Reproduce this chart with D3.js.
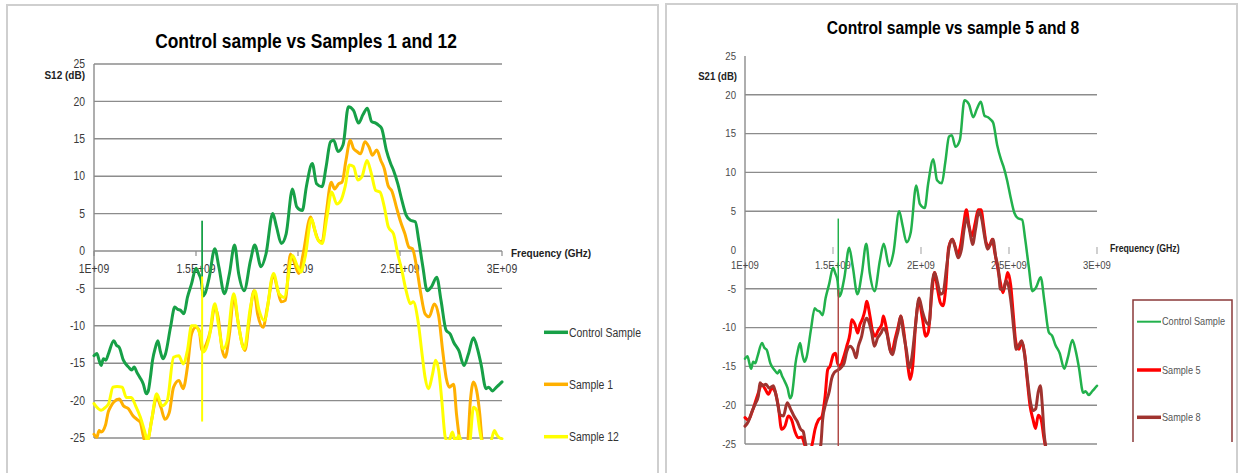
<!DOCTYPE html>
<html><head><meta charset="utf-8">
<script src="https://cdn.jsdelivr.net/npm/d3@7"></script>
<style>
body{margin:0;background:#fff;}
svg{display:block;}
text{font-family:"Liberation Sans",Arial,sans-serif;}
</style>
</head><body>
<svg id="c" width="1240" height="473"></svg>
<script>
// ---------- data (frequency in GHz, value in dB) ----------
const xTicks = [1, 1.5, 2, 2.5, 3];
const xTickLabels = ["1E+09","1.5E+09","2E+09","2.5E+09","3E+09"];
const yTicks = [-25,-20,-15,-10,-5,0,5,10,15,20,25];

const controlSample = [[1.000,-14.0],[1.014,-13.7],[1.025,-14.6],[1.035,-15.3],[1.046,-14.4],[1.058,-14.6],[1.070,-13.8],[1.097,-12.0],[1.110,-12.6],[1.124,-12.9],[1.144,-14.6],[1.169,-15.5],[1.185,-15.9],[1.197,-15.5],[1.210,-16.2],[1.225,-16.9],[1.242,-17.8],[1.256,-19.1],[1.265,-18.8],[1.276,-17.0],[1.287,-14.6],[1.300,-13.0],[1.313,-12.0],[1.325,-13.4],[1.338,-14.4],[1.350,-13.8],[1.375,-10.2],[1.396,-7.5],[1.410,-7.8],[1.423,-7.9],[1.441,-8.4],[1.458,-6.2],[1.478,-4.4],[1.500,-2.3],[1.513,-3.0],[1.526,-4.0],[1.535,-6.0],[1.544,-5.7],[1.565,-3.5],[1.592,0.3],[1.612,-2.1],[1.639,-5.7],[1.664,-3.0],[1.689,0.8],[1.709,-3.0],[1.736,-5.3],[1.767,-1.3],[1.788,0.8],[1.819,-2.1],[1.843,-0.4],[1.876,5.0],[1.895,3.2],[1.918,1.0],[1.942,2.3],[1.973,8.3],[1.994,5.9],[2.021,5.4],[2.041,8.6],[2.070,11.7],[2.091,9.0],[2.118,8.6],[2.138,11.3],[2.159,14.6],[2.175,14.8],[2.196,13.3],[2.221,14.2],[2.247,19.3],[2.272,18.8],[2.297,17.1],[2.318,18.2],[2.340,19.1],[2.361,17.3],[2.381,17.1],[2.396,16.8],[2.410,16.4],[2.433,13.5],[2.454,11.7],[2.468,10.8],[2.489,9.0],[2.509,6.8],[2.530,4.8],[2.551,4.1],[2.575,3.9],[2.592,1.4],[2.612,-2.1],[2.633,-5.3],[2.654,-4.8],[2.680,-3.5],[2.701,-6.6],[2.726,-10.6],[2.746,-11.1],[2.763,-12.2],[2.788,-13.3],[2.814,-15.3],[2.835,-13.8],[2.860,-11.6],[2.880,-13.1],[2.897,-15.1],[2.922,-18.4],[2.935,-18.2],[2.953,-18.7],[2.973,-18.2],[2.985,-17.9],[3.000,-17.5]];
const controlSpike = [[1.530,4.05],[1.530,-6.0]];

const sample1 = [[1.000,-24.5],[1.014,-24.9],[1.025,-24.0],[1.035,-24.2],[1.056,-23.3],[1.070,-21.5],[1.080,-20.9],[1.097,-20.2],[1.124,-19.8],[1.144,-20.7],[1.169,-21.1],[1.190,-22.0],[1.210,-22.5],[1.227,-22.9],[1.240,-24.5],[1.252,-25.6],[1.265,-25.2],[1.282,-22.7],[1.307,-19.6],[1.328,-20.9],[1.348,-22.5],[1.369,-21.6],[1.390,-18.2],[1.416,-17.3],[1.437,-18.4],[1.458,-15.5],[1.478,-11.1],[1.499,-10.2],[1.515,-10.6],[1.530,-13.3],[1.551,-12.4],[1.571,-10.6],[1.592,-7.5],[1.608,-8.8],[1.629,-13.3],[1.643,-14.2],[1.664,-11.1],[1.685,-6.2],[1.705,-9.3],[1.726,-12.4],[1.740,-13.3],[1.761,-9.3],[1.784,-5.3],[1.802,-8.4],[1.829,-10.2],[1.850,-7.5],[1.880,-3.3],[1.901,-5.3],[1.918,-6.8],[1.938,-6.6],[1.963,-0.4],[1.984,-1.7],[2.004,-3.0],[2.025,-0.4],[2.062,4.55],[2.082,2.8],[2.101,1.4],[2.118,1.2],[2.138,5.0],[2.163,9.2],[2.179,8.3],[2.200,9.0],[2.216,9.2],[2.235,12.1],[2.256,14.8],[2.272,13.7],[2.289,13.3],[2.307,13.0],[2.328,14.6],[2.348,13.9],[2.365,12.8],[2.386,13.5],[2.406,12.1],[2.423,11.0],[2.441,8.8],[2.462,7.9],[2.482,5.9],[2.503,3.9],[2.524,2.3],[2.544,0.5],[2.561,0.3],[2.581,-2.1],[2.602,-5.7],[2.623,-8.4],[2.643,-8.8],[2.668,-7.1],[2.689,-8.6],[2.709,-13.3],[2.726,-16.9],[2.742,-18.2],[2.763,-17.8],[2.777,-21.8],[2.794,-25.4],[2.810,-26.5],[2.830,-26.0],[2.845,-20.0],[2.860,-17.5],[2.876,-18.7],[2.891,-21.8],[2.903,-25.5],[2.920,-27.0],[3.000,-27.0]];

const sample12 = [[1.000,-20.4],[1.014,-20.9],[1.035,-21.3],[1.056,-20.9],[1.072,-20.4],[1.093,-18.2],[1.113,-18.1],[1.138,-18.2],[1.159,-19.6],[1.183,-19.6],[1.204,-20.7],[1.227,-22.2],[1.247,-24.0],[1.262,-25.3],[1.282,-22.7],[1.307,-19.1],[1.334,-20.7],[1.359,-20.0],[1.390,-14.2],[1.416,-14.0],[1.437,-15.1],[1.458,-13.3],[1.478,-10.0],[1.499,-10.0],[1.515,-10.8],[1.526,-11.8],[1.535,-13.5],[1.544,-13.3],[1.565,-11.5],[1.592,-7.05],[1.612,-10.2],[1.633,-13.1],[1.653,-12.0],[1.685,-5.7],[1.709,-10.0],[1.736,-13.1],[1.767,-7.5],[1.788,-5.3],[1.809,-7.9],[1.835,-9.3],[1.880,-3.0],[1.907,-5.7],[1.932,-6.2],[1.973,-0.6],[1.998,-2.1],[2.014,-2.8],[2.035,-0.8],[2.066,4.3],[2.091,1.9],[2.118,1.0],[2.142,4.55],[2.165,7.9],[2.190,6.3],[2.211,6.8],[2.231,8.6],[2.252,11.5],[2.272,11.3],[2.293,9.5],[2.313,9.9],[2.338,12.1],[2.359,10.4],[2.381,8.1],[2.402,7.9],[2.423,5.9],[2.443,3.2],[2.468,2.3],[2.489,-0.4],[2.509,-2.6],[2.530,-5.3],[2.551,-7.05],[2.565,-6.8],[2.588,-9.3],[2.608,-13.75],[2.623,-16.9],[2.639,-18.4],[2.660,-16.4],[2.674,-14.6],[2.690,-16.0],[2.705,-20.0],[2.722,-24.9],[2.737,-25.6],[2.757,-24.2],[2.772,-25.5],[2.788,-24.7],[2.805,-25.6],[2.840,-25.8],[2.860,-20.9],[2.876,-21.3],[2.891,-24.0],[2.903,-25.5],[2.940,-25.8],[2.963,-24.0],[2.973,-24.5],[2.984,-24.9],[3.000,-25.1]];
const sample12Spike = [[1.530,-3.4],[1.530,-22.8]];

const sample5 = [[1.000,-21.6],[1.019,-21.9],[1.038,-21.0],[1.057,-19.7],[1.076,-18.4],[1.095,-17.3],[1.114,-17.9],[1.133,-18.6],[1.152,-17.8],[1.170,-18.2],[1.189,-20.1],[1.208,-23.1],[1.227,-22.7],[1.246,-21.4],[1.265,-21.9],[1.284,-23.4],[1.303,-24.2],[1.322,-24.1],[1.341,-25.2],[1.360,-26.0],[1.380,-25.2],[1.398,-23.1],[1.417,-21.9],[1.436,-21.5],[1.455,-18.9],[1.470,-15.4],[1.483,-15.0],[1.502,-13.5],[1.515,-13.3],[1.526,-14.6],[1.540,-15.0],[1.559,-13.9],[1.578,-12.4],[1.597,-10.7],[1.606,-9.0],[1.625,-9.6],[1.640,-10.7],[1.653,-9.6],[1.669,-8.8],[1.682,-7.7],[1.691,-6.6],[1.710,-8.5],[1.725,-10.5],[1.739,-11.1],[1.758,-10.3],[1.777,-9.6],[1.786,-8.5],[1.801,-9.8],[1.814,-11.5],[1.833,-13.3],[1.852,-11.5],[1.871,-9.8],[1.886,-8.5],[1.900,-10.1],[1.917,-13.3],[1.928,-15.4],[1.938,-16.7],[1.953,-15.0],[1.970,-9.4],[1.989,-6.6],[2.008,-8.8],[2.027,-11.1],[2.041,-10.6],[2.062,-5.5],[2.077,-2.9],[2.094,-5.05],[2.110,-6.8],[2.125,-7.2],[2.140,-5.05],[2.157,0.3],[2.178,1.4],[2.194,0.5],[2.209,-0.6],[2.224,0.5],[2.241,3.1],[2.258,5.2],[2.273,3.1],[2.289,1.8],[2.308,3.5],[2.325,5.2],[2.341,5.2],[2.356,3.1],[2.371,0.9],[2.388,0.5],[2.405,1.4],[2.419,-0.3],[2.434,-2.1],[2.451,-4.2],[2.466,-5.5],[2.483,-3.8],[2.493,-2.9],[2.510,-4.6],[2.525,-8.5],[2.539,-11.9],[2.556,-12.8],[2.571,-11.9],[2.588,-13.2],[2.603,-16.6],[2.619,-20.0],[2.636,-21.8],[2.651,-23.0],[2.666,-21.3],[2.682,-21.8],[2.699,-24.3],[2.714,-26.0],[2.730,-27.0]];

const sample8 = [[1.000,-22.7],[1.019,-22.1],[1.038,-20.9],[1.057,-19.9],[1.076,-18.8],[1.085,-17.1],[1.100,-17.5],[1.119,-17.3],[1.138,-17.8],[1.161,-17.5],[1.180,-19.1],[1.199,-21.2],[1.218,-21.4],[1.240,-19.7],[1.259,-20.5],[1.278,-21.4],[1.297,-22.1],[1.316,-23.1],[1.331,-23.4],[1.341,-24.6],[1.360,-26.5],[1.400,-26.5],[1.430,-25.2],[1.441,-21.9],[1.460,-19.7],[1.479,-18.2],[1.492,-16.6],[1.507,-15.8],[1.526,-15.5],[1.544,-15.2],[1.563,-14.6],[1.578,-13.1],[1.597,-12.4],[1.616,-12.9],[1.631,-13.9],[1.644,-12.4],[1.663,-11.1],[1.678,-9.4],[1.691,-8.8],[1.706,-9.4],[1.720,-10.7],[1.735,-12.4],[1.754,-11.3],[1.773,-10.7],[1.786,-10.1],[1.805,-10.7],[1.824,-12.9],[1.839,-13.5],[1.858,-11.5],[1.871,-10.3],[1.884,-8.5],[1.900,-10.7],[1.917,-12.9],[1.934,-15.2],[1.949,-13.7],[1.966,-10.3],[1.989,-6.2],[2.008,-7.9],[2.027,-9.2],[2.046,-9.6],[2.062,-4.6],[2.077,-2.9],[2.094,-4.2],[2.110,-5.7],[2.125,-5.5],[2.146,-2.1],[2.161,0.5],[2.178,1.4],[2.194,0.3],[2.211,-1.0],[2.230,0.1],[2.245,2.7],[2.258,4.15],[2.275,2.7],[2.293,0.7],[2.310,2.7],[2.329,5.0],[2.346,3.9],[2.361,1.8],[2.378,0.1],[2.394,0.7],[2.409,1.4],[2.424,-0.8],[2.441,-2.7],[2.451,-5.05],[2.468,-5.05],[2.483,-4.0],[2.497,-4.6],[2.514,-7.2],[2.529,-10.6],[2.541,-12.8],[2.556,-12.3],[2.571,-11.7],[2.588,-13.4],[2.605,-16.6],[2.619,-19.2],[2.636,-20.7],[2.651,-20.5],[2.666,-18.3],[2.678,-17.5],[2.689,-20.0],[2.699,-23.5],[2.714,-26.0],[2.730,-27.0]];
const sample8Spike = [[1.530,-5.1],[1.530,-26.0]];

// ---------- drawing ----------
const svg = d3.select("#c");

// panel frames
svg.append("rect").attr("x",7).attr("y",5).attr("width",651).attr("height",490)
  .attr("fill","none").attr("stroke","#cfcfcf").attr("stroke-width",2);
svg.append("rect").attr("x",666).attr("y",4).attr("width",571).attr("height",490)
  .attr("fill","none").attr("stroke","#cfcfcf").attr("stroke-width",2);

function drawPanel(cfg){
  const g = svg.append("g");
  const x = d3.scaleLinear().domain([1,3]).range([cfg.x0, cfg.x1]);
  const y = d3.scaleLinear().domain([-25,25]).range([cfg.yb, cfg.yt]);

  // gridlines
  g.append("g").selectAll("line")
    .data(yTicks.filter(t => cfg.gridZero || t !== 0).filter(t => cfg.gridTop || t !== 25))
    .join("line")
    .attr("x1", cfg.x0).attr("x2", cfg.x1)
    .attr("y1", d => y(d)).attr("y2", d => y(d))
    .attr("stroke", cfg.gridColor).attr("stroke-width", 1.4);

  // y axis line
  g.append("line").attr("x1",cfg.x0).attr("x2",cfg.x0).attr("y1",y(25)).attr("y2",y(-25))
    .attr("stroke", cfg.gridColor).attr("stroke-width",1.4);

  // y tick labels
  g.append("g").selectAll("text").data(yTicks).join("text")
    .attr("x", cfg.x0 - cfg.yLabelGap).attr("y", d => y(d))
    .attr("dy","0.35em").attr("text-anchor","end")
    .attr("font-size", cfg.tickFont).attr("fill", cfg.textColor)
    .text(d => d);

  // x axis ticks at 0
  const x0y = y(0);
  g.append("g").selectAll("line").data(xTicks).join("line")
    .attr("x1", d => x(d)).attr("x2", d => x(d))
    .attr("y1", x0y + cfg.tickUp).attr("y2", x0y + cfg.tickDown)
    .attr("stroke", cfg.tickColor).attr("stroke-width", 1.2);
  g.append("g").selectAll("text").data(xTicks).join("text")
    .attr("x", d => x(d)).attr("y", x0y + cfg.xLabelDy)
    .attr("text-anchor","middle").attr("font-size", cfg.tickFont).attr("fill", cfg.textColor)
    .text((d,i) => xTickLabels[i]);

  // titles
  g.append("text").attr("x", cfg.titleX).attr("y", cfg.titleY).attr("text-anchor","middle")
    .attr("font-size", cfg.titleFont).attr("font-weight","bold").attr("fill","#000")
    .text(cfg.title);
  g.append("text").attr("x", cfg.yTitleX).attr("y", cfg.yTitleY).attr("text-anchor","end")
    .attr("font-size", cfg.axisTitleFont).attr("font-weight","bold").attr("fill","#222")
    .text(cfg.yTitle);
  g.append("text").attr("x", cfg.xTitleX).attr("y", cfg.xTitleY)
    .attr("font-size", cfg.xTitleFont).attr("font-weight","bold").attr("fill","#222")
    .text("Frequency (GHz)");

  // clip
  const cid = "clip" + cfg.id;
  svg.append("defs").append("clipPath").attr("id", cid).append("rect")
    .attr("x", cfg.x0 - 2).attr("y", cfg.yt - 3)
    .attr("width", cfg.x1 - cfg.x0 + 4).attr("height", cfg.yb - cfg.yt + 5);

  const line = d3.line().curve(d3.curveMonotoneX).x(d => x(d[0])).y(d => y(d[1]));
  const straight = d3.line().x(d => x(d[0])).y(d => y(d[1]));
  const lg = g.append("g").attr("clip-path", `url(#${cid})`);
  cfg.series.forEach(s => {
    lg.append("path").datum(s.data).attr("d", line)
      .attr("fill","none").attr("stroke", s.color).attr("stroke-width", s.width)
      .attr("stroke-linejoin","round").attr("stroke-linecap","round");
  });
  // narrow single-point spikes drawn on top
  cfg.series.forEach(s => {
    if (!s.spike) return;
    lg.append("path").datum(s.spike).attr("d", straight)
      .attr("fill","none").attr("stroke", s.spikeColor || s.color).attr("stroke-width", s.spikeWidth);
  });

  // legend
  cfg.series.forEach((s,i) => {
    const ly = cfg.legendY[i];
    g.append("line").attr("x1", cfg.legendX).attr("x2", cfg.legendX + cfg.legendLen)
      .attr("y1", ly).attr("y2", ly).attr("stroke", s.color).attr("stroke-width", s.legendWidth);
    g.append("text").attr("x", cfg.legendX + cfg.legendLen + 1).attr("y", ly)
      .attr("dy","0.35em").attr("font-size", cfg.legendFont).attr("fill", cfg.legendColor)
      .text(s.name);
  });
  return g;
}

drawPanel({
  id:"L", x0:94, x1:502, yt:64, yb:438,
  gridColor:"#8c8c8c", gridZero:true, gridTop:true, tickColor:"#8c8c8c",
  tickUp:0, tickDown:5, xLabelDy:22, yLabelGap:9,
  tickFont:12, textColor:"#3a3a3a",
  title:"Control sample vs Samples 1 and 12", titleX:306, titleY:48, titleFont:20,
  yTitle:"S12 (dB)", yTitleX:85, yTitleY:79, axisTitleFont:11.5,
  xTitleX:511, xTitleY:257, xTitleFont:11.5,
  legendX:544, legendLen:24, legendY:[332.3,384.3,436.7], legendFont:12, legendColor:"#333",
  series:[
    {name:"Control Sample", data:controlSample, spike:controlSpike, spikeWidth:1.8, color:"#17a047", width:3, legendWidth:3.5},
    {name:"Sample 1", data:sample1, color:"#ffb000", width:3, legendWidth:3.5},
    {name:"Sample 12", data:sample12, spike:sample12Spike, spikeWidth:2, color:"#ffff00", width:3, legendWidth:3.5}
  ]
});

drawPanel({
  id:"R", x0:745, x1:1097, yt:56, yb:444,
  gridColor:"#8c8c8c", gridZero:false, gridTop:false, tickColor:"#b0b0b0",
  tickUp:-3, tickDown:4, xLabelDy:19, yLabelGap:9,
  tickFont:11, textColor:"#4a4a4a",
  title:"Control sample vs sample 5 and 8", titleX:953, titleY:34, titleFont:18,
  yTitle:"S21 (dB)", yTitleX:737, yTitleY:80, axisTitleFont:11,
  xTitleX:1110, xTitleY:252, xTitleFont:10,
  legendX:1137, legendLen:24, legendY:[321.7,370,417.3], legendFont:10.5, legendColor:"#555",
  series:[
    {name:"Control Sample", data:controlSample, spike:controlSpike, spikeWidth:1.5, color:"#22b14c", width:2.5, legendWidth:2},
    {name:"Sample 5", data:sample5, color:"#ff0000", width:3, legendWidth:3.5},
    {name:"Sample 8", data:sample8, spike:sample8Spike, spikeWidth:1.5, spikeColor:"#b04a46", color:"#a0332f", width:3, legendWidth:3.5}
  ]
});
// right legend frame (open at the bottom)
svg.append("path").attr("d","M1133,442V300H1232V442")
  .attr("fill","none").attr("stroke","#8b3a3a").attr("stroke-width",1.5);

// condense all text horizontally to approximate the narrow original typeface
svg.selectAll("text").each(function(){
  const w = this.getComputedTextLength();
  d3.select(this).attr("textLength", (w * 0.87).toFixed(1)).attr("lengthAdjust","spacingAndGlyphs");
});
</script>
</body></html>
